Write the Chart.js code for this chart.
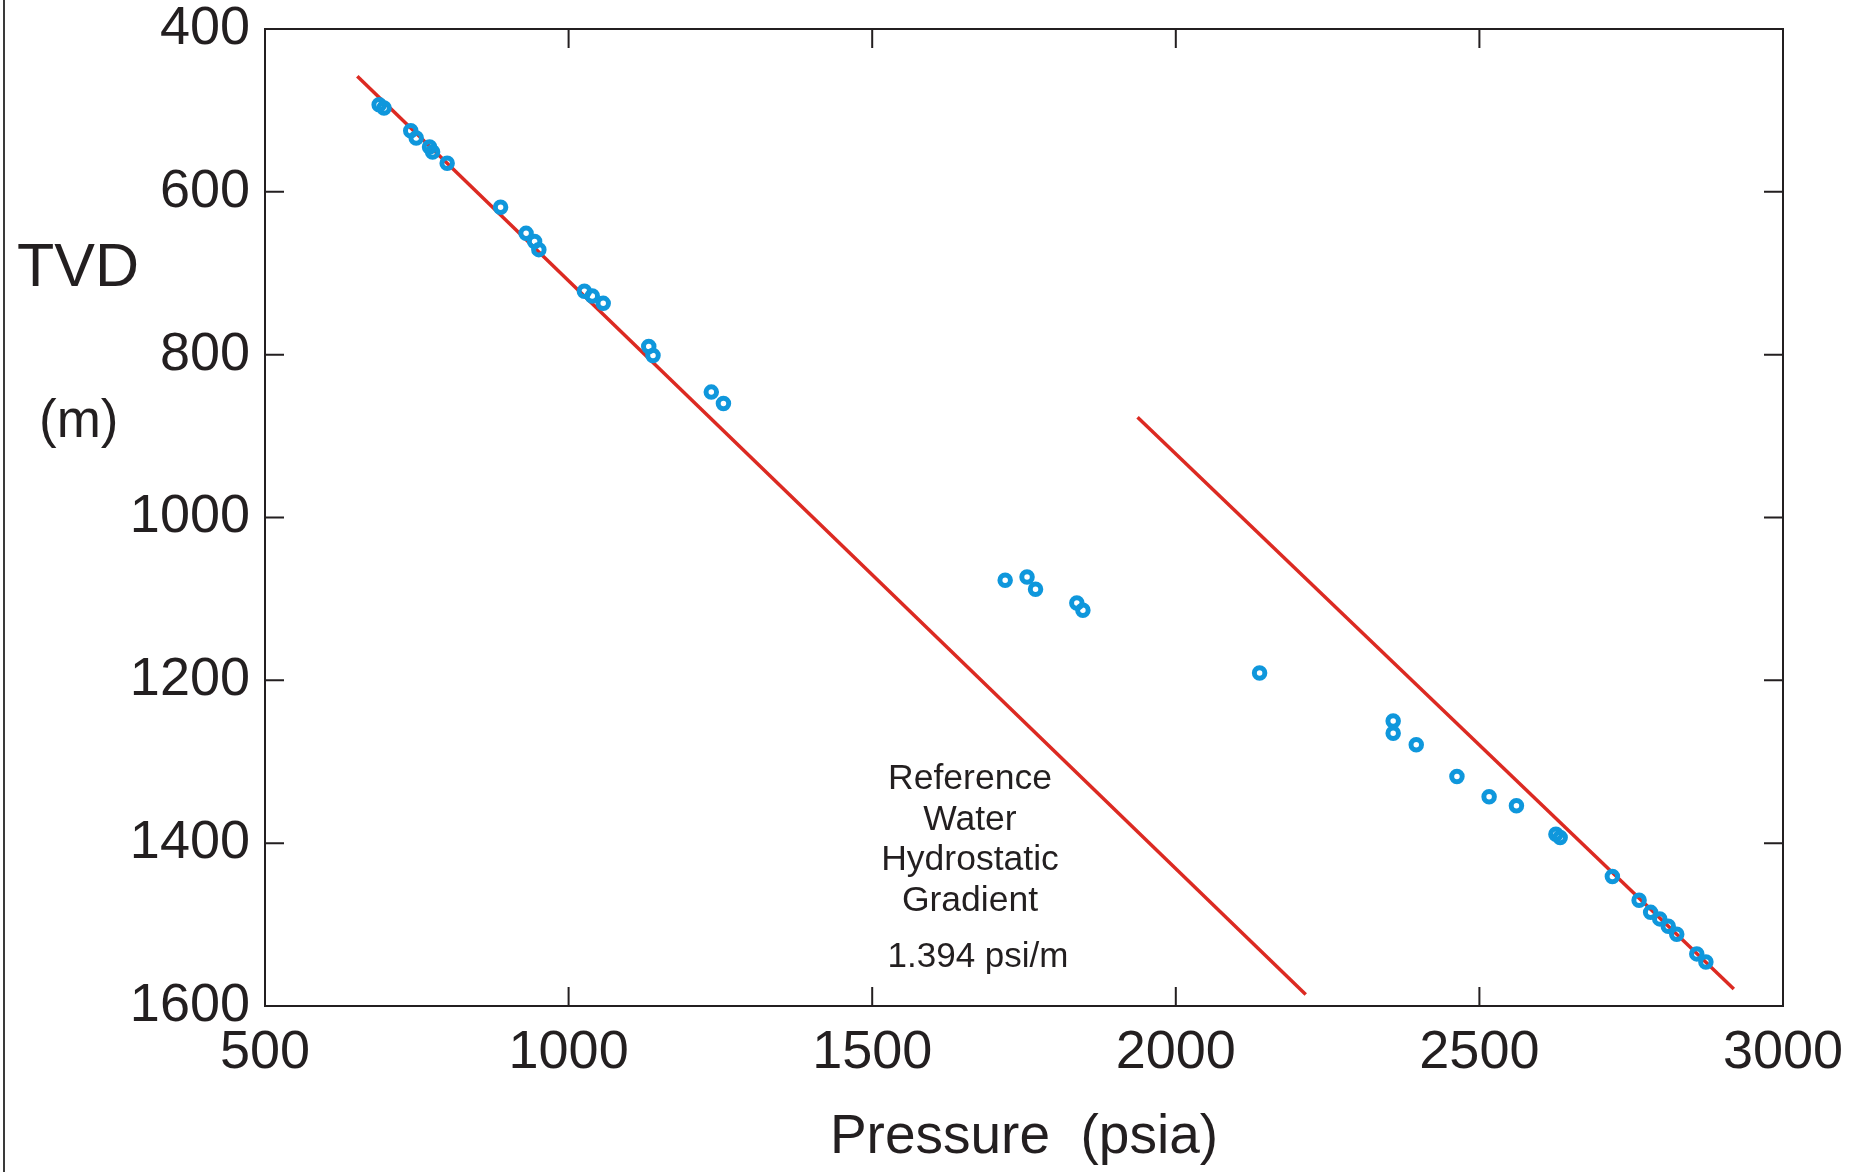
<!DOCTYPE html>
<html>
<head>
<meta charset="utf-8">
<title>Pressure vs TVD</title>
<script src="https://cdn.jsdelivr.net/npm/chart.js@4.4.1/dist/chart.umd.min.js"></script>
<style>
  html, body { margin: 0; padding: 0; background: #fff; }
  #wrap { position: relative; width: 1854px; height: 1172px; overflow: hidden; }
  #chart { position: absolute; left: 0; top: 0; }
  .edge { position: absolute; left: 3px; top: 0; width: 2px; height: 1172px; background: #3a3a3a; }
  .lbl { position: absolute; font-family: "Liberation Sans", Arial, sans-serif; color: #231f20; white-space: nowrap; }
  #tvd { left: 17px; top: 235px; font-size: 61px; line-height: 61px; }
  #unit { left: 39px; top: 392px; font-size: 53px; line-height: 53px; }
  #note { left: 860px; width: 220px; top: 757px; font-size: 35.5px; line-height: 40.5px; text-align: center; }
  #grad { left: 868px; width: 220px; top: 937px; font-size: 35px; line-height: 35px; text-align: center; }
</style>
</head>
<body>
<div id="wrap">
  <canvas id="chart" width="1854" height="1172"></canvas>
  <div class="edge"></div>
  <div class="lbl" id="tvd">TVD</div>
  <div class="lbl" id="unit">(m)</div>
  <div class="lbl" id="note">Reference<br>Water<br>Hydrostatic<br>Gradient</div>
  <div class="lbl" id="grad">1.394 psi/m</div>
</div>
<script>
// measured pressure points (psia) and depth (m TVD)
const pressure = [688, 696, 740, 749, 771, 776, 800, 888, 930, 944, 951, 1026, 1039, 1057, 1132, 1139, 1235, 1255,
  1719, 1755, 1769, 1837, 1847, 2138,
  2358, 2358, 2396, 2463, 2516, 2561, 2626, 2633, 2719, 2763, 2782, 2797, 2811, 2825, 2858, 2873];
const tvd = [493, 497, 525, 534, 545, 551, 565, 619, 651, 661, 671, 722, 728, 737, 790, 801, 846, 860,
  1077, 1073, 1088, 1105, 1114, 1191,
  1250, 1265, 1279, 1318, 1343, 1354, 1389, 1393, 1441, 1470, 1485, 1493, 1502, 1512, 1536, 1546];

// reference water hydrostatic gradient lines (end points)
const shallowLineP = [652, 2214];
const shallowLineD = [458, 1586];
const deepLineP = [1937, 2919];
const deepLineD = [877, 1579];

const xTicks = [500, 1000, 1500, 2000, 2500, 3000];
const yTicks = [400, 600, 800, 1000, 1200, 1400, 1600];

const ink = '#231f20';
const red = '#dc2a22';
const blue = '#0f97dc';

const toXY = (xs, ys) => xs.map((x, i) => ({ x: x, y: ys[i] }));

// box around the plot with inward ticks on all four sides
const frameTicks = {
  id: 'frameTicks',
  afterDraw(chart) {
    const { ctx, chartArea: a, scales } = chart;
    const len = 19;
    ctx.save();
    ctx.strokeStyle = ink;
    ctx.lineWidth = 2;
    ctx.strokeRect(a.left, a.top, a.right - a.left, a.bottom - a.top);
    ctx.beginPath();
    xTicks.forEach(v => {
      const px = scales.x.getPixelForValue(v);
      ctx.moveTo(px, a.bottom); ctx.lineTo(px, a.bottom - len);
      ctx.moveTo(px, a.top); ctx.lineTo(px, a.top + len);
    });
    yTicks.forEach(v => {
      const py = scales.y.getPixelForValue(v);
      ctx.moveTo(a.left, py); ctx.lineTo(a.left + len, py);
      ctx.moveTo(a.right, py); ctx.lineTo(a.right - len, py);
    });
    ctx.stroke();
    ctx.restore();
  }
};

// keep the plot box where it is in the original, whatever the label sizes
const noScalePadding = scale => {
  scale.paddingTop = 0;
  scale.paddingBottom = 0;
  scale.paddingLeft = 0;
  scale.paddingRight = 0;
};

const tickFont = { family: '"Liberation Sans", Arial, sans-serif', size: 54, lineHeight: 1 };

new Chart(document.getElementById('chart'), {
  type: 'scatter',
  data: {
    datasets: [
      {
        label: 'Measured pressure',
        data: toXY(pressure, tvd),
        pointStyle: 'circle',
        pointRadius: 5.25,
        pointBorderWidth: 5,
        pointBorderColor: blue,
        pointBackgroundColor: 'rgba(0,0,0,0)',
        order: 0
      },
      {
        label: 'Gradient (shallow)',
        data: toXY(shallowLineP, shallowLineD),
        showLine: true,
        borderColor: red,
        borderWidth: 3.5,
        pointRadius: 0,
        order: 1
      },
      {
        label: 'Gradient (deep)',
        data: toXY(deepLineP, deepLineD),
        showLine: true,
        borderColor: red,
        borderWidth: 3.5,
        pointRadius: 0,
        order: 1
      }
    ]
  },
  options: {
    responsive: false,
    animation: false,
    layout: { padding: { top: 29, right: 71, left: 0, bottom: 0 } },
    plugins: {
      legend: { display: false },
      tooltip: { enabled: false }
    },
    scales: {
      x: {
        type: 'linear',
        min: 500,
        max: 3000,
        grid: { display: false, drawTicks: false },
        border: { display: false },
        afterBuildTicks: scale => { scale.ticks = xTicks.map(v => ({ value: v })); },
        afterFit: scale => { scale.height = 166; noScalePadding(scale); },
        ticks: { color: ink, font: tickFont, padding: 20, maxRotation: 0, callback: v => String(v) },
        title: {
          display: true,
          text: 'Pressure  (psia)',
          color: ink,
          font: { family: '"Liberation Sans", Arial, sans-serif', size: 55 },
          padding: { top: 0, bottom: 1 }
        }
      },
      y: {
        type: 'linear',
        reverse: true,
        min: 400,
        max: 1600,
        grid: { display: false, drawTicks: false },
        border: { display: false },
        afterBuildTicks: scale => { scale.ticks = yTicks.map(v => ({ value: v })); },
        afterFit: scale => { scale.width = 265; noScalePadding(scale); },
        ticks: { color: ink, font: tickFont, padding: 15, callback: v => String(v) }
      }
    }
  },
  plugins: [frameTicks]
});
</script>
</body>
</html>
